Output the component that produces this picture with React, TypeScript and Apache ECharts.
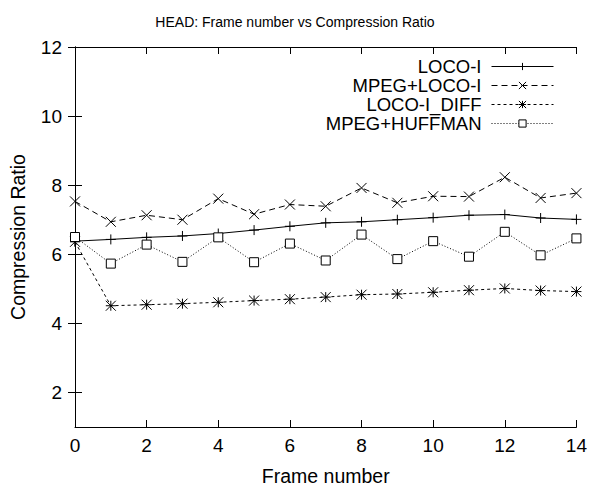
import React, { useEffect, useRef } from "react";
import * as echarts from "echarts";

const frames = [0, 1, 2, 3, 4, 5, 6, 7, 8, 9, 10, 11, 12, 13, 14];
const locoI = [6.38, 6.43, 6.49, 6.53, 6.6, 6.7, 6.81, 6.91, 6.94, 7.0, 7.06, 7.13, 7.15, 7.05, 7.01];
const mpegLocoI = [7.53, 6.94, 7.13, 7.0, 7.61, 7.16, 7.44, 7.39, 7.92, 7.49, 7.68, 7.67, 8.23, 7.63, 7.77];
const locoIDiff = [6.36, 4.51, 4.54, 4.57, 4.61, 4.66, 4.7, 4.76, 4.83, 4.85, 4.9, 4.96, 5.01, 4.95, 4.92];
const mpegHuffman = [6.5, 5.73, 6.28, 5.78, 6.49, 5.77, 6.31, 5.82, 6.57, 5.86, 6.38, 5.93, 6.65, 5.97, 6.46];
const seriesNames = ["LOCO-I", "MPEG+LOCO-I", "LOCO-I_DIFF", "MPEG+HUFFMAN"];
const yTicks = [2, 4, 6, 8, 10, 12];

const FONT = "Liberation Sans, Arial, sans-serif";

export default function App() {
  const ref = useRef<HTMLDivElement>(null);
  useEffect(() => {
    if (!ref.current) return;
    const chart = echarts.init(ref.current, undefined, { renderer: "svg" });
    const pair = (arr: number[]) => frames.map((f, i) => [f, arr[i]]);
    const plus = "path://M5,0L5,10M0,5L10,5";
    const cross = "path://M0,0L10,10M10,0L0,10";
    const star = "path://M0,0L10,10M10,0L0,10M5,0L5,10M0,5L10,5";
    const square = "path://M0,0L10,0L10,10L0,10Z";
    const mk = (name: string, data: number[], symbol: string, size: number, type: any, fill: string) => ({
      name,
      type: "line",
      data: pair(data),
      symbol,
      symbolSize: size,
      showAllSymbol: true,
      color: "#000",
      lineStyle: { color: "#000", width: 1, type },
      itemStyle: { color: fill, borderColor: "#000", borderWidth: 1 },
      emphasis: { disabled: true },
    });
    const commonX = {
      type: "value",
      min: 0,
      max: 14,
      interval: 2,
      axisLine: { show: true, lineStyle: { color: "#000", width: 1 } },
      axisTick: { show: true, inside: true, length: 7, lineStyle: { color: "#000" } },
      splitLine: { show: false },
    };
    const commonY = {
      type: "value",
      min: 1,
      max: 12,
      axisLine: { show: true, lineStyle: { color: "#000", width: 1 } },
      axisTick: { show: true, inside: true, length: 7, customValues: yTicks, lineStyle: { color: "#000" } },
      splitLine: { show: false },
    };
    chart.setOption({
      animation: false,
      backgroundColor: "#fff",
      title: {
        text: "HEAD: Frame number vs Compression Ratio",
        left: "center",
        top: 10,
        textStyle: { fontFamily: FONT, fontSize: 14, fontWeight: "normal", color: "#000" },
      },
      grid: { left: 75, right: 12, top: 47, bottom: 61 },
      legend: {
        data: seriesNames,
        orient: "vertical",
        right: 31,
        top: 52,
        align: "right",
        itemWidth: 62,
        itemHeight: 9,
        itemGap: 0,
        lineStyle: { width: 1 },
        itemStyle: { borderWidth: 1 },
        textStyle: { fontFamily: FONT, fontSize: 18.5, color: "#000", lineHeight: 18.5, padding: [0, 5, 0, 0] },
        selectedMode: false,
      },
      xAxis: [
        {
          ...commonX,
          position: "bottom",
          name: "Frame number",
          nameLocation: "middle",
          nameGap: 39,
          nameTextStyle: { fontFamily: FONT, fontSize: 19.5, color: "#000" },
          axisLabel: { fontFamily: FONT, fontSize: 19, color: "#000", margin: 9 },
        },
        { ...commonX, position: "top", axisLabel: { show: false } },
      ],
      yAxis: [
        {
          ...commonY,
          position: "left",
          name: "Compression Ratio",
          nameLocation: "middle",
          nameGap: 47,
          nameTextStyle: { fontFamily: FONT, fontSize: 19.5, color: "#000" },
          axisLabel: { fontFamily: FONT, fontSize: 19, color: "#000", margin: 13, customValues: yTicks },
        },
        { ...commonY, position: "right", axisLabel: { show: false } },
      ],
      series: [
        mk(seriesNames[0], locoI, plus, 10, "solid", "#000"),
        mk(seriesNames[1], mpegLocoI, cross, 10, [6, 4], "#000"),
        mk(seriesNames[2], locoIDiff, star, 10, [3, 3], "#000"),
        mk(seriesNames[3], mpegHuffman, square, 9, [1, 2], "#fff"),
      ],
    });
    return () => chart.dispose();
  }, []);
  return <div ref={ref} style={{ width: 590, height: 491, position: "absolute", left: 0, top: 0 }} />;
}
